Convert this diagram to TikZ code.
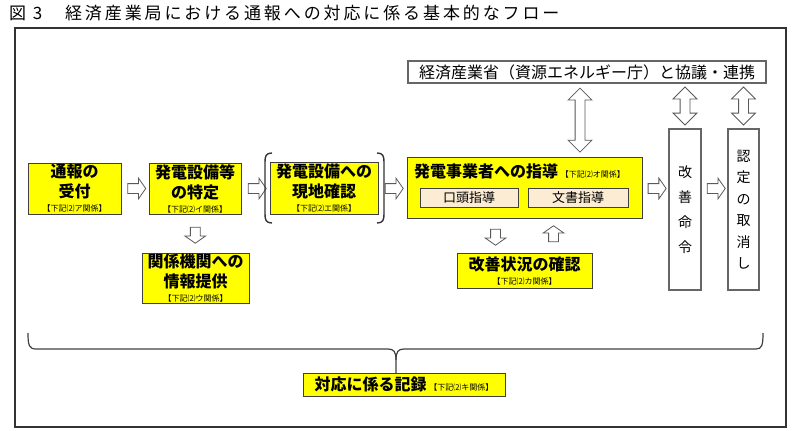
\documentclass[tikz,border=0pt]{standalone}
\usepackage{fontspec}
\setmainfont{Noto Sans CJK JP}
\usetikzlibrary{shapes.arrows,calc}

\definecolor{kiiro}{RGB}{255,255,0}
\definecolor{usucha}{RGB}{253,236,212}
\newcommand{\lbl}[1]{{\fontsize{8}{9}\selectfont\mdseries #1}}

\begin{document}
\begin{tikzpicture}[x=1pt,y=-1pt,
    ybox/.style={draw=black!75, fill=kiiro, line width=0.9pt, inner sep=0pt, align=center, font=\fontsize{16}{20}\selectfont\bfseries},
    wbox/.style={draw=black!60, fill=white, line width=1.2pt, inner sep=0pt, align=center, font=\fontsize{16}{19}\selectfont},
    sbox/.style={draw=black!75, fill=usucha, line width=0.9pt, inner sep=0pt, font=\fontsize{13}{15}\selectfont},
    rarr/.style={single arrow, draw=black!65, fill=white, line width=0.8pt, inner sep=4.5pt, single arrow head extend=5.5pt, single arrow tip angle=110, minimum height=18pt},
    darr/.style={rarr, shape border rotate=270, minimum height=16pt},
    uarr/.style={rarr, shape border rotate=90, minimum height=16pt},
    varr/.style={double arrow, draw=black!65, fill=white, line width=0.8pt, inner sep=4.5pt, double arrow head extend=7pt, shape border rotate=90},
    brk/.style={black!80, line width=1.4pt},
    brc/.style={black!75, line width=1.2pt}]
    \useasboundingbox (0,0) rectangle (793,431);
    % title and frame
    \node[anchor=west, inner sep=0pt, font=\fontsize{17}{20}\selectfont\addfontfeatures{LetterSpace=17}] (ttl) at (9,13) {図 3　経済産業局における通報への対応に係る基本的なフロー};
    \draw[black!80, line width=1.2pt] (15,28) rectangle (786,427);
    % boxes
    \node[wbox, minimum width=358pt, minimum height=22pt] (hq) at (587,72) {経済産業省（資源エネルギー庁）と協議・連携};
    \node[ybox, minimum width=93pt, minimum height=51pt] (uke) at (74.5,188.5) {通報の\\受付\\[-6pt]\lbl{【下記⑵ア関係】}};
    \node[ybox, minimum width=92pt, minimum height=51pt] (tokutei) at (195,188.5) {発電設備等\\の特定\\[-6pt]\lbl{【下記⑵イ関係】}};
    \node[ybox, minimum width=108pt, minimum height=52pt] (genchi) at (324,188) {発電設備への\\現地確認\\[-6pt]\lbl{【下記⑵エ関係】}};
    \node[ybox, minimum width=235pt, minimum height=61pt] (shido) at (524.5,187.5) {};
    \node[anchor=west, inner sep=0pt, font=\fontsize{16}{20}\selectfont\bfseries] (shidot) at (414,171) {発電事業者への指導\,\lbl{【下記⑵オ関係】}};
    \node[sbox, minimum width=98pt, minimum height=19pt] (koto) at (469,197.5) {口頭指導};
    \node[sbox, minimum width=100pt, minimum height=19pt] (bunsho) at (578,197.5) {文書指導};
    \node[wbox, minimum width=32pt, minimum height=161pt, font=\fontsize{14}{25}\selectfont] (meirei) at (685,209.5) {改\\善\\命\\令};
    \node[wbox, minimum width=31pt, minimum height=161pt, font=\fontsize{14}{21.5}\selectfont] (torikeshi) at (743.5,209.5) {認\\定\\の\\取\\消\\し};
    \node[ybox, minimum width=107pt, minimum height=50pt] (teikyo) at (195.5,278) {関係機関への\\情報提供\\[-6pt]\lbl{【下記⑵ウ関係】}};
    \node[ybox, minimum width=135pt, minimum height=35pt] (kakunin) at (524.5,270.5) {改善状況の確認\\[-6pt]\lbl{【下記⑵カ関係】}};
    \node[ybox, minimum width=202pt, minimum height=23pt] (kiroku) at (404,384.5) {対応に係る記録\,\lbl{【下記⑵キ関係】}};
    % block arrows
    \foreach \a/\b in {uke/tokutei,tokutei/genchi,genchi/shido,shido/meirei,meirei/torikeshi}
    \node[rarr] at ($(uke.east -| \a.east)!.5!(uke.east -| \b.west)$) {};
    \node[darr] (d1) at ($(tokutei.south)!.5!(teikyo.north)$) {};
    \node[darr] (d2) at ($(shido.south)!.5!(kakunin.north)+(-29,0)$) {};
    \node[uarr] (u1) at ($(shido.south)!.5!(kakunin.north)+(29,0)$) {};
    \node[varr, minimum height=64pt] (v1) at ($(hq.south)!.5!(hq.south |- shido.north)+(-7,0)$) {};
    \foreach \n in {meirei,torikeshi}
    \node[varr, minimum height=38pt] at ($(hq.south -| \n.north)!.5!(\n.north)$) {};
    % brackets
    \draw[brk] (272,153) .. controls (266,153) and (265,156) .. (265,162) -- (265,214) .. controls (265,220) and (266,223) .. (272,223);
    \draw[brk] (377,153) .. controls (383,153) and (384,156) .. (384,162) -- (384,214) .. controls (384,220) and (383,223) .. (377,223);
    % brace
    \draw[brc] (28,333) .. controls (28,345) and (29,349) .. (36,349) -- (388,349) .. controls (394,349) and (396,352) .. (396,360) -- (396,373);
    \draw[brc] (396,360) .. controls (396,352) and (398,349) .. (404,349) -- (756,349) .. controls (762,349) and (763,345) .. (763,333);
\end{tikzpicture}
\end{document}
